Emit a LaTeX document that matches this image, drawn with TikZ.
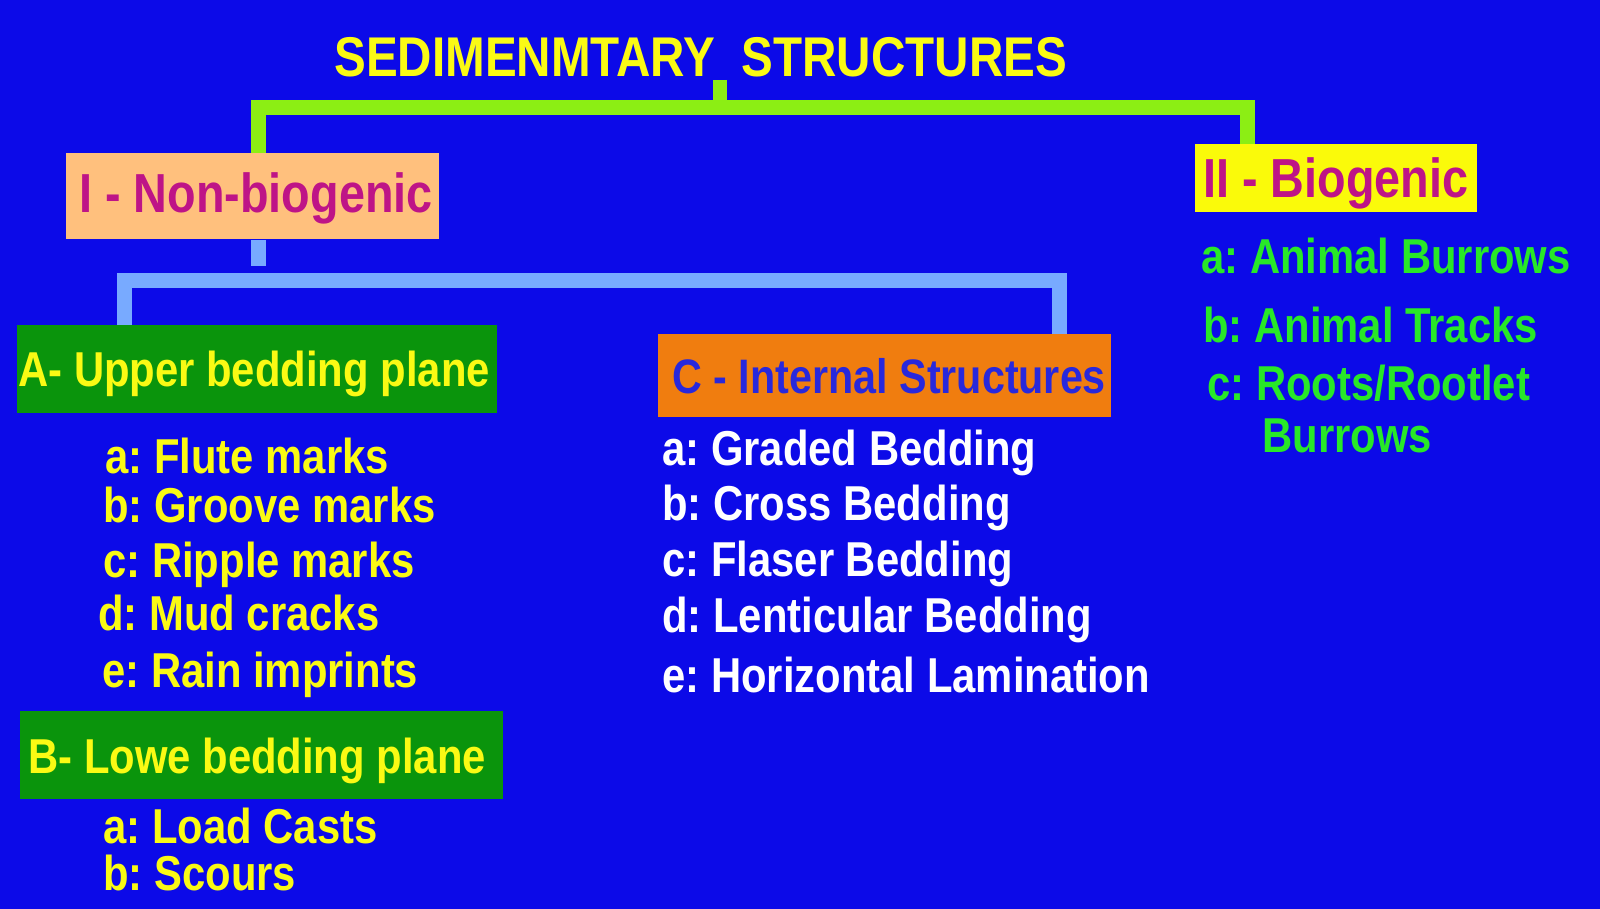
\documentclass[tikz,border=0pt]{standalone}
\usepackage{fontspec}
\newfontfamily\nar{Liberation Sans}[FakeStretch=0.853]
\newfontfamily\narL{Liberation Sans}[FakeStretch=0.85]
\frenchspacing
\definecolor{bgblue}{RGB}{12,10,232}
\definecolor{ttyellow}{RGB}{250,250,20}
\definecolor{itgreen}{RGB}{40,232,40}
\definecolor{magtext}{RGB}{190,20,135}
\definecolor{ctext}{RGB}{40,40,220}
\definecolor{peach}{RGB}{255,192,125}
\definecolor{boxyellow}{RGB}{250,250,10}
\definecolor{boxgreen}{RGB}{10,148,12}
\definecolor{boxorange}{RGB}{240,125,15}
\definecolor{limeline}{RGB}{140,238,20}
\definecolor{skyline}{RGB}{120,170,255}
\tikzset{
  smalltxt/.style={font=\nar\bfseries\fontsize{24.5}{29}\selectfont, inner sep=0pt, anchor=base west},
  largetxt/.style={font=\narL\bfseries\fontsize{27.5}{33}\selectfont, inner sep=0pt, anchor=base west},
  hbox/.style={draw=none, inner sep=0pt, anchor=north west},
  gline/.style={draw=limeline, line width=7.5pt, line join=miter, line cap=butt},
  bline/.style={draw=skyline, line width=7.5pt, line join=miter, line cap=butt}
}
\begin{document}
\begin{tikzpicture}[x=0.5pt,y=-0.5pt]
\fill[bgblue] (0,0) rectangle (1600,909);
% boxes
\node[hbox, fill=peach, minimum width=186.5pt, minimum height=43pt] (nonbio) at (66,153) {};
\node[hbox, fill=boxyellow, minimum width=141pt, minimum height=34pt] (bio) at (1195,144) {};
\node[hbox, fill=boxgreen, minimum width=240pt, minimum height=44pt] (upper) at (17,325) {};
\node[hbox, fill=boxgreen, minimum width=241.5pt, minimum height=44pt] (lower) at (20,711) {};
\node[hbox, fill=boxorange, minimum width=226.5pt, minimum height=41.5pt] (internal) at (658,334) {};
% title
\node[largetxt, font=\narL\bfseries\fontsize{28}{33}\selectfont, text=ttyellow] (title) at (334,77) {SEDIMENMTARY\ \ STRUCTURES};
% headings
\node[largetxt, text=magtext] (nonbiot) at (79,213) {I - Non-biogenic};
\node[largetxt, text=magtext] (biot) at (1203,198) {II - Biogenic};
\node[smalltxt, text=ttyellow] (uppert) at (18,386) {A- Upper bedding plane};
\node[smalltxt, text=ttyellow] (lowert) at (28,773) {B- Lowe bedding plane};
\node[smalltxt, font=\nar\bfseries\fontsize{24.2}{29}\selectfont, text=ctext] (internalt) at (672,393) {C - Internal Structures};
% left items
\node[smalltxt, text=ttyellow] (ua) at (105,473) {a: Flute marks};
\node[smalltxt, text=ttyellow] (ub) at (103,522) {b: Groove marks};
\node[smalltxt, text=ttyellow] (uc) at (103,577) {c: Ripple marks};
\node[smalltxt, text=ttyellow] (ud) at (98,630) {d: Mud cracks};
\node[smalltxt, text=ttyellow] (ue) at (102,687) {e: Rain imprints};
\node[smalltxt, text=ttyellow] (la) at (103,843) {a: Load Casts};
\node[smalltxt, text=ttyellow] (lb) at (103,890) {b: Scours};
% middle items
\node[smalltxt, text=white] (ia) at (662,465) {a: Graded Bedding};
\node[smalltxt, text=white] (ib) at (662,520) {b: Cross Bedding};
\node[smalltxt, text=white] (ic) at (662,576) {c: Flaser Bedding};
\node[smalltxt, text=white] (id) at (662,632) {d: Lenticular Bedding};
\node[smalltxt, text=white] (ie) at (662,692) {e: Horizontal Lamination};
% right items
\node[smalltxt, text=itgreen] (ba) at (1201,273) {a: Animal Burrows};
\node[smalltxt, text=itgreen] (bb) at (1203,343) {b: Animal Tracks};
\node[smalltxt, text=itgreen] (bc) at (1207,400) {c: Roots/Rootlet};
\node[smalltxt, text=itgreen] (bd) at (1262,452) {Burrows};
% green connector
\coordinate (gstub) at (720,80);
\coordinate (gl) at (258.5,107.5);
\coordinate (gr) at (1247.5,107.5);
\draw[gline, line width=7pt] (gstub) -- (gstub |- gl);
\draw[gline] (gl |- nonbio.north) -- (gl) -- (gr) -- (gr |- bio.north);
% blue connector
\coordinate (bstub) at (258.5,266);
\coordinate (bl) at (124.5,280.5);
\coordinate (br) at (1059.5,280.5);
\draw[bline] (nonbio.south -| bstub) -- (bstub);
\draw[bline] (bl |- upper.north) -- (bl) -- (br) -- (br |- internal.north);
\end{tikzpicture}
\end{document}
